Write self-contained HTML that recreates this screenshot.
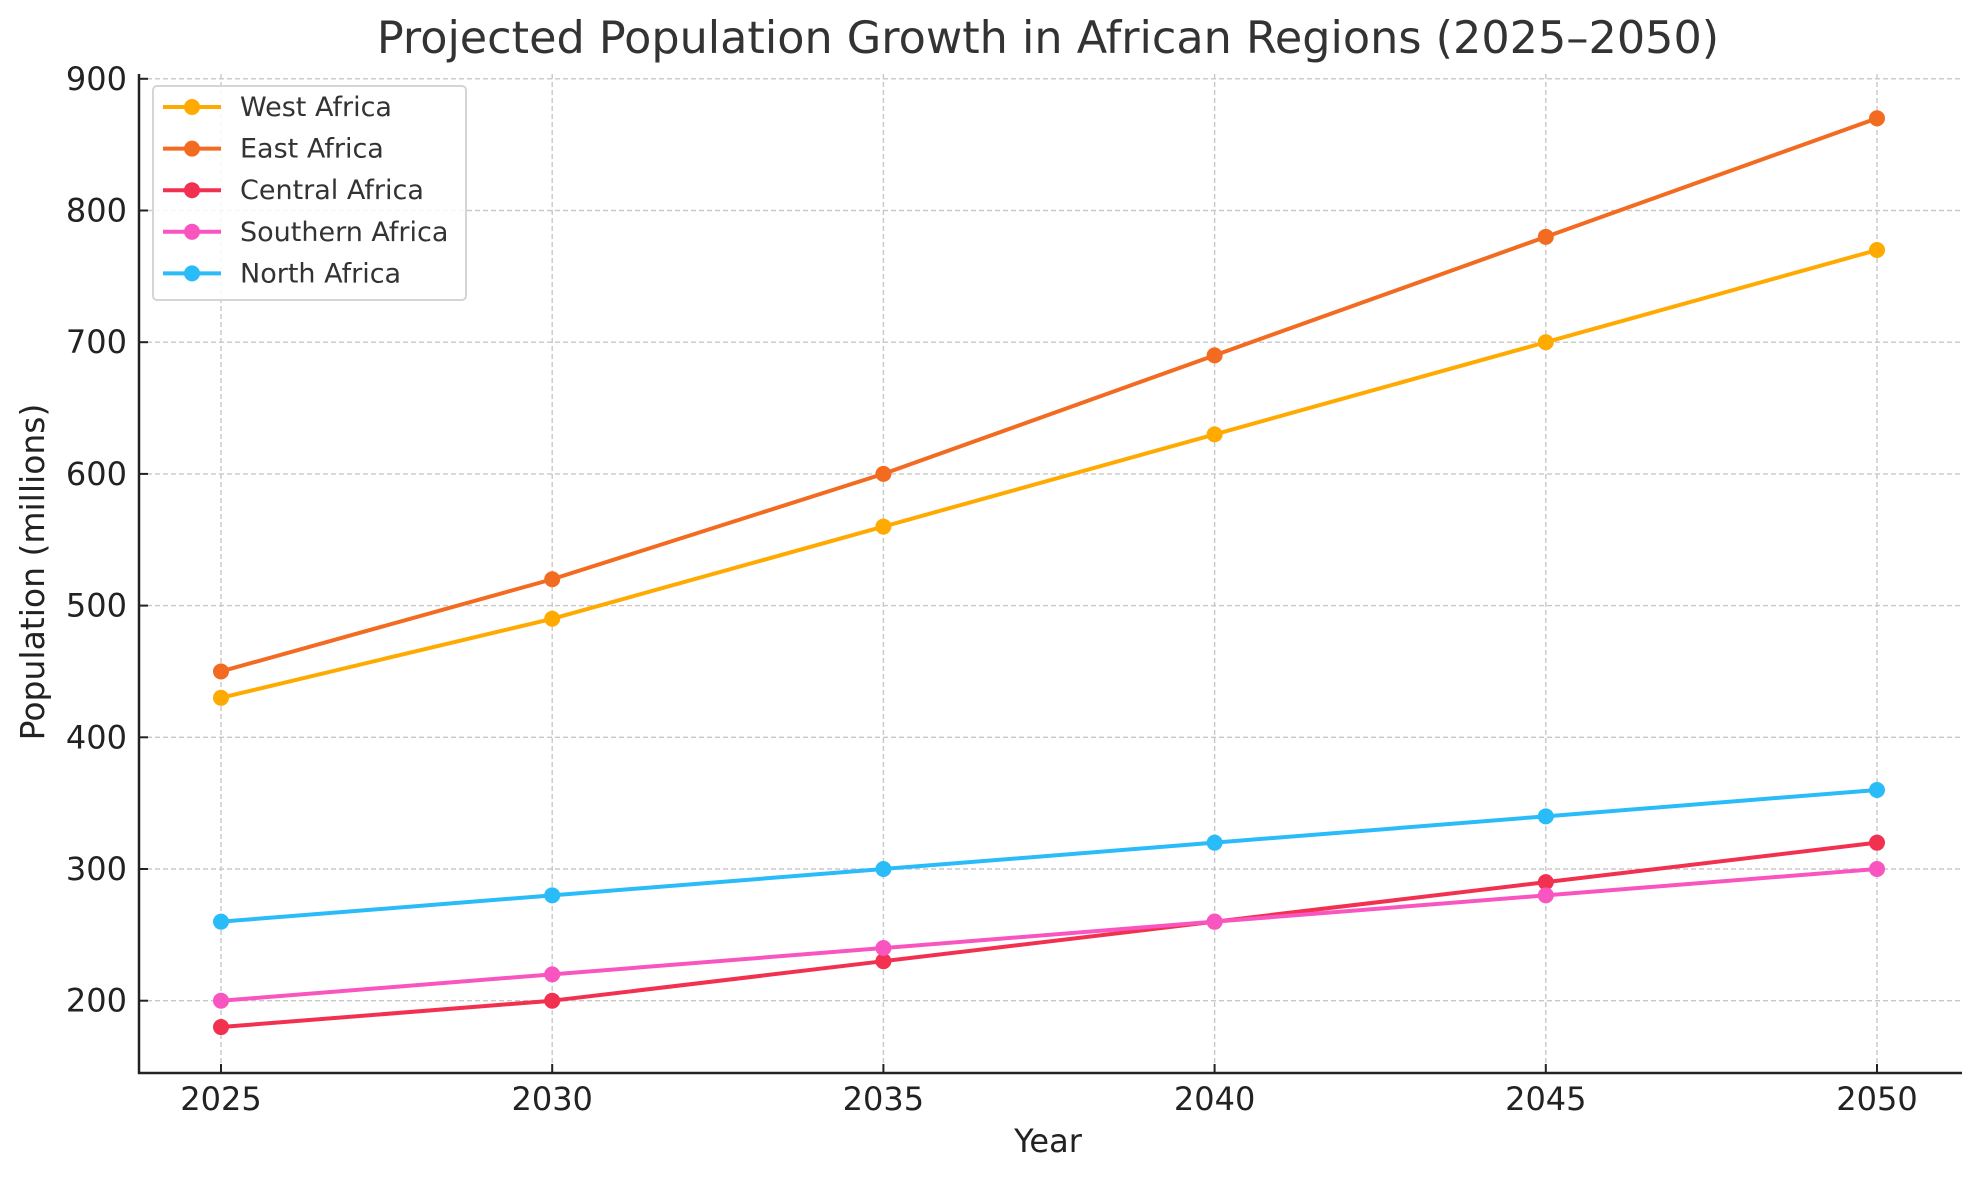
<!DOCTYPE html>
<html><head><meta charset="utf-8"><style>
html,body{margin:0;padding:0;background:#fff;}
svg{display:block;font-family:"DejaVu Sans","Liberation Sans",sans-serif;}
</style></head><body>
<svg id="chart" width="1979" height="1180" viewBox="0 0 1979 1180" xmlns="http://www.w3.org/2000/svg">
<text x="1048" y="53" font-size="44.5" fill="#333" text-anchor="middle">Projected Population Growth in African Regions (2025–2050)</text>
<g id="grid"></g>
<g id="axes"></g>
<g id="series"></g>
<text x="1048" y="1152" font-size="32" fill="#222" text-anchor="middle">Year</text>
<text transform="translate(44,572) rotate(-90)" font-size="33" fill="#222" text-anchor="middle">Population (millions)</text>
<g id="legend"></g>
</svg>
<script>
const years = [2025, 2030, 2035, 2040, 2045, 2050];
const yTicks = [200, 300, 400, 500, 600, 700, 800, 900];
const seriesNames = ["West Africa", "East Africa", "Central Africa", "Southern Africa", "North Africa"];
const westAfrica = [430, 490, 560, 630, 700, 770];
const eastAfrica = [450, 520, 600, 690, 780, 870];
const centralAfrica = [180, 200, 230, 260, 290, 320];
const southernAfrica = [200, 220, 240, 260, 280, 300];
const northAfrica = [260, 280, 300, 320, 340, 360];
const seriesColors = ["#FFAA00", "#F26B21", "#F2304F", "#F955C0", "#29BCF8"];

(function () {
const NS = "http://www.w3.org/2000/svg";
const pLeft = 139, pRight = 1962, pTop = 74, pBottom = 1073;
const xScale = v => 221 + (v - 2025) * (1877 - 221) / 25;
const yScale = v => 1000.7 - (v - 200) * 1.317;
function mk(tag, attrs, parent) { const e = document.createElementNS(NS, tag); for (const k in attrs) e.setAttribute(k, attrs[k]); parent.appendChild(e); return e; }
const grid = document.getElementById('grid'), axes = document.getElementById('axes'), seriesG = document.getElementById('series'), legend = document.getElementById('legend');

years.forEach(y => {
  const x = xScale(y);
  const g = mk('line', {x1: x, x2: x, y1: pTop, y2: pBottom, stroke: '#c8c8c8', 'stroke-width': 1.4, 'stroke-dasharray': '5,3'}, grid);
  
  
  const t = mk('line', {x1: x, x2: x, y1: pBottom, y2: pBottom - 9, stroke: '#222', 'stroke-width': 2}, axes);
  
  
  const l = mk('text', {x: x, y: 1110, 'font-size': 32, fill: '#222', 'text-anchor': 'middle'}, axes);
  l.textContent = y;
  
  
});
yTicks.forEach(v => {
  const y = yScale(v);
  const g = mk('line', {x1: pLeft, x2: pRight, y1: y, y2: y, stroke: '#c8c8c8', 'stroke-width': 1.4, 'stroke-dasharray': '5,3'}, grid);
  
  
  const t = mk('line', {x1: pLeft, x2: pLeft + 9, y1: y, y2: y, stroke: '#222', 'stroke-width': 2}, axes);
  
  
  const l = mk('text', {x: 127, y: y + 11, 'font-size': 32, fill: '#222', 'text-anchor': 'end'}, axes);
  l.textContent = v;
  
  
});
const ax = mk('path', {d: `M${pLeft} ${pTop} V${pBottom} H${pRight}`, fill: 'none', stroke: '#222', 'stroke-width': 2.5}, axes);



const allSeries = [westAfrica, eastAfrica, centralAfrica, southernAfrica, northAfrica];
allSeries.forEach((vals, i) => {
  const g = mk('g', {}, seriesG);
  
  
  const d = vals.map((v, j) => (j ? 'L' : 'M') + xScale(years[j]) + ' ' + yScale(v)).join(' ');
  const p = mk('path', {d: d, fill: 'none', stroke: seriesColors[i], 'stroke-width': 4, 'stroke-linejoin': 'round'}, g);
  
  
  vals.forEach((v, j) => {
    const c = mk('circle', {cx: xScale(years[j]), cy: yScale(v), r: 8, fill: seriesColors[i]}, g);
    
    
  });
});

const lb = mk('rect', {x: 153, y: 86, width: 313, height: 214, rx: 4, fill: '#fff', 'fill-opacity': 0.85, stroke: '#d5d5d5', 'stroke-width': 2}, legend);


seriesNames.forEach((n, i) => {
  const y = 107 + i * 41.6;
  const g = mk('g', {}, legend);
  
  
  mk('line', {x1: 163, x2: 221, y1: y, y2: y, stroke: seriesColors[i], 'stroke-width': 4}, g);
  mk('circle', {cx: 192, cy: y, r: 8, fill: seriesColors[i]}, g);
  const t = mk('text', {x: 240, y: y + 9, 'font-size': 27, fill: '#333'}, g);
  t.textContent = n;
});
})();
</script>
</body></html>
